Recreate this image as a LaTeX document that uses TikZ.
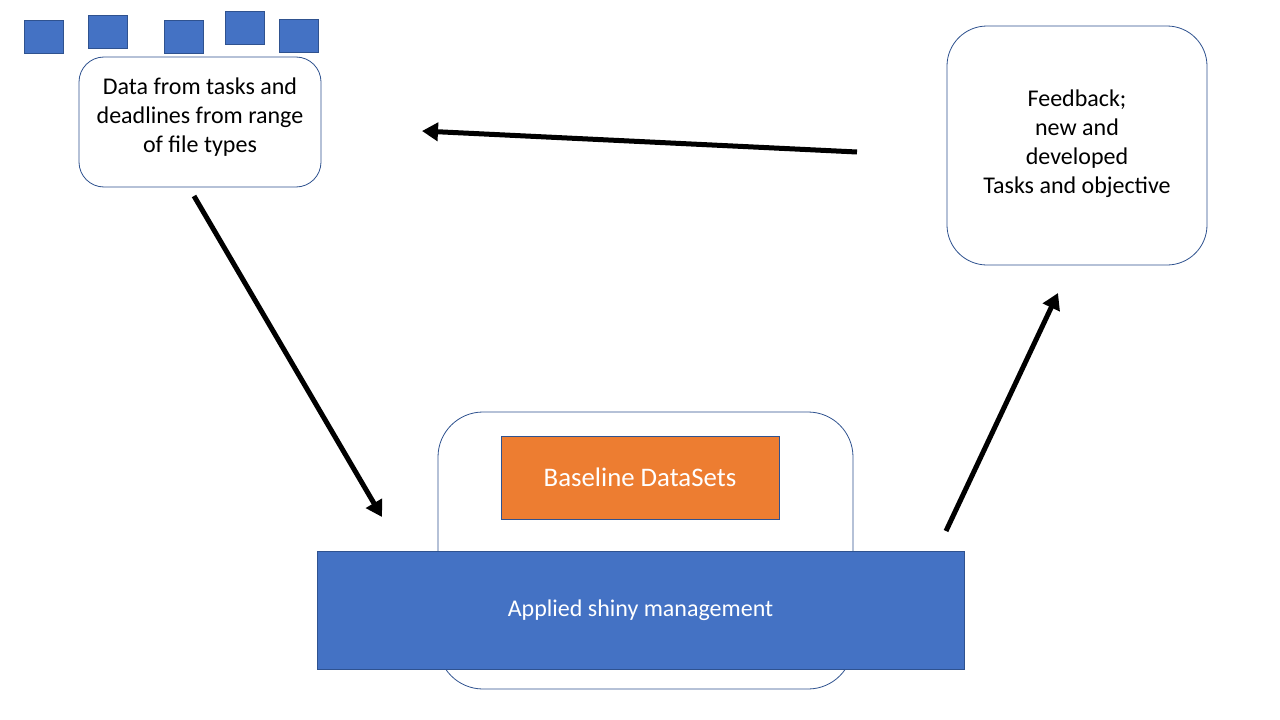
\documentclass[tikz,border=0pt]{standalone}
\usepackage{fontspec}
\setmainfont{Carlito}
\usetikzlibrary{arrows.meta}
\definecolor{accblue}{HTML}{4472C4}
\definecolor{edgeblue}{HTML}{2F528F}
\definecolor{accorange}{HTML}{ED7D31}
\tikzset{
  sq/.style={fill=accblue,draw=edgeblue,line width=0.8pt,minimum width=39pt,minimum height=33pt,inner sep=0pt},
  rbox/.style={draw=edgeblue,line width=0.8pt,fill=white},
  txt/.style={font=\fontsize{24}{29}\selectfont,align=center,text=black},
  bigarrow/.style={line width=5pt,-{Triangle[length=16pt,width=18pt]}},
}
\begin{document}
\begin{tikzpicture}[x=1pt,y=-1pt]
\useasboundingbox[fill=white] (0,0) rectangle (1280,720);
% small squares
\node[sq,anchor=north west] (s1) at (24,20) {};
\node[sq,anchor=north west] (s2) at (88,15) {};
\node[sq,anchor=north west] (s3) at (164,20) {};
\node[sq,anchor=north west] (s4) at (225,11) {};
\node[sq,anchor=north west] (s5) at (279,19) {};
% box 1
\draw[rbox,rounded corners=25pt] (79,57) rectangle (321,187);
\node[txt] (data) at (200,117) {Data from tasks and\\deadlines from range\\of file types};
% box 2
\draw[rbox,rounded corners=40pt] (947,26) rectangle (1207,265);
\node[txt] (fb) at (1077,143.5) {Feedback;\\new and\\developed\\Tasks and objective};
% centre group
\draw[rbox,rounded corners=45pt] (438,412) rectangle (853,689);
\node[fill=accorange,draw=edgeblue,line width=0.8pt,minimum width=278pt,minimum height=83pt,inner sep=0pt,text=white,font=\fontsize{26.8}{29}\selectfont] (base) at (640,477.5) {Baseline DataSets};
\node[fill=accblue,draw=edgeblue,line width=0.8pt,minimum width=647pt,minimum height=118pt,inner sep=0pt,text=white,font=\fontsize{24}{29}\selectfont] (app) at (640.5,610) {Applied shiny management};
% arrows
\coordinate (a1s) at (857,152);
\coordinate (a1e) at (422,131);
\coordinate (a2s) at (194,196);
\coordinate (a2e) at (382,517);
\coordinate (a3s) at (946,531);
\coordinate (a3e) at (1058,293);
\draw[bigarrow] (a1s) -- (a1e);
\draw[bigarrow] (a2s) -- (a2e);
\draw[bigarrow] (a3s) -- (a3e);
\end{tikzpicture}
\end{document}
